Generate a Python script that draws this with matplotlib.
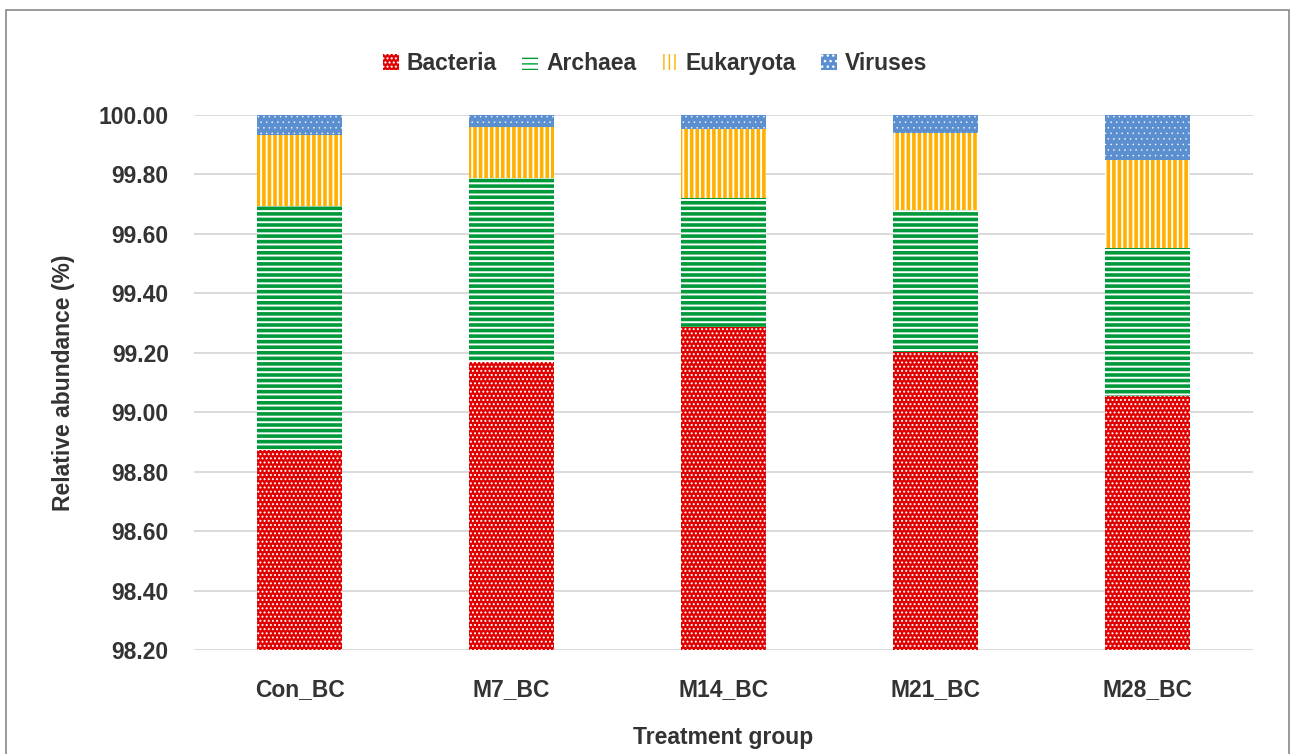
import matplotlib.pyplot as plt
import numpy as np
from matplotlib.patches import Rectangle

plt.rcParams['font.family'] = ['Liberation Sans', 'DejaVu Sans']
plt.rcParams['font.size'] = 16.5
plt.rcParams['font.weight'] = 'bold'
plt.rcParams['axes.labelweight'] = 'bold'

groups = ['Con_BC', 'M7_BC', 'M14_BC', 'M21_BC', 'M28_BC']
series = ['Bacteria', 'Archaea', 'Eukaryota', 'Viruses']
# top of each stacked segment (cumulative %)
bacteria = [98.873, 99.169, 99.287, 99.203, 99.055]
archaea_top = [99.694, 99.788, 99.721, 99.680, 99.553]
eukaryota_top = [99.933, 99.960, 99.953, 99.940, 99.849]
viruses_top = [100.0, 100.0, 100.0, 100.0, 100.0]

fig = plt.figure(figsize=(12.92, 7.54), dpi=100)
ax = fig.add_axes([0.150, 0.138, 0.820, 0.7095])

x = np.arange(len(groups))
w = 0.4
base = 98.2
b1 = np.array(bacteria)
b2 = np.array(archaea_top)
b3 = np.array(eukaryota_top)
b4 = np.array(viruses_top)


def stacked(heights, bottoms, face, edge, hatch, hlw, label):
    with plt.rc_context({'hatch.linewidth': hlw}):
        bars = ax.bar(x, heights, w, bottom=bottoms, color=face, edgecolor=edge,
                      hatch=hatch, linewidth=0, label=label, zorder=3)
        for p in bars:
            if hasattr(p, 'set_hatch_linewidth'):
                p.set_hatch_linewidth(hlw)
    return bars


stacked(b1 - base, base, '#e00000', 'white', '....', 0.9, 'Bacteria')
stacked(b2 - b1, b1, 'white', '#009a3a', '---', 2.6, 'Archaea')
stacked(b3 - b2, b2, 'white', '#ffb000', '|||', 2.6, 'Eukaryota')
stacked(b4 - b3, b3, '#5b8fd0', 'white', '...', 0.3, 'Viruses')

ax.set_xlim(-0.5, len(groups) - 0.5)
ax.set_ylim(98.2, 100.0)
ax.set_yticks(np.arange(98.2, 100.01, 0.2))
ax.set_yticklabels(['%.2f' % v for v in np.arange(98.2, 100.01, 0.2)])
ax.set_xticks(x)
ax.set_xticklabels(groups)
ax.tick_params(axis='both', length=0, colors='#333333')
ax.tick_params(axis='y', pad=18)
ax.tick_params(axis='x', pad=20)
ax.grid(axis='y', color='#d4d4d4', linewidth=1.2, zorder=0)
for s in ax.spines.values():
    s.set_visible(False)

ax.set_xlabel('Treatment group', labelpad=18, color='#333333')
ax.set_ylabel('Relative abundance (%)', labelpad=17, color='#333333')

fig.legend(loc='center', bbox_to_anchor=(0.507, 0.916), ncol=4, frameon=False,
           handlelength=0.7, handleheight=0.7, handletextpad=0.35,
           columnspacing=1.1, labelcolor='#333333')

fig.patches.append(Rectangle((6 / 1292, -0.05), 1283 / 1292, 1.05 - 10 / 754,
                             transform=fig.transFigure, fill=False,
                             edgecolor='#888888', linewidth=1.2))

fig.savefig('out.png', dpi=100)
